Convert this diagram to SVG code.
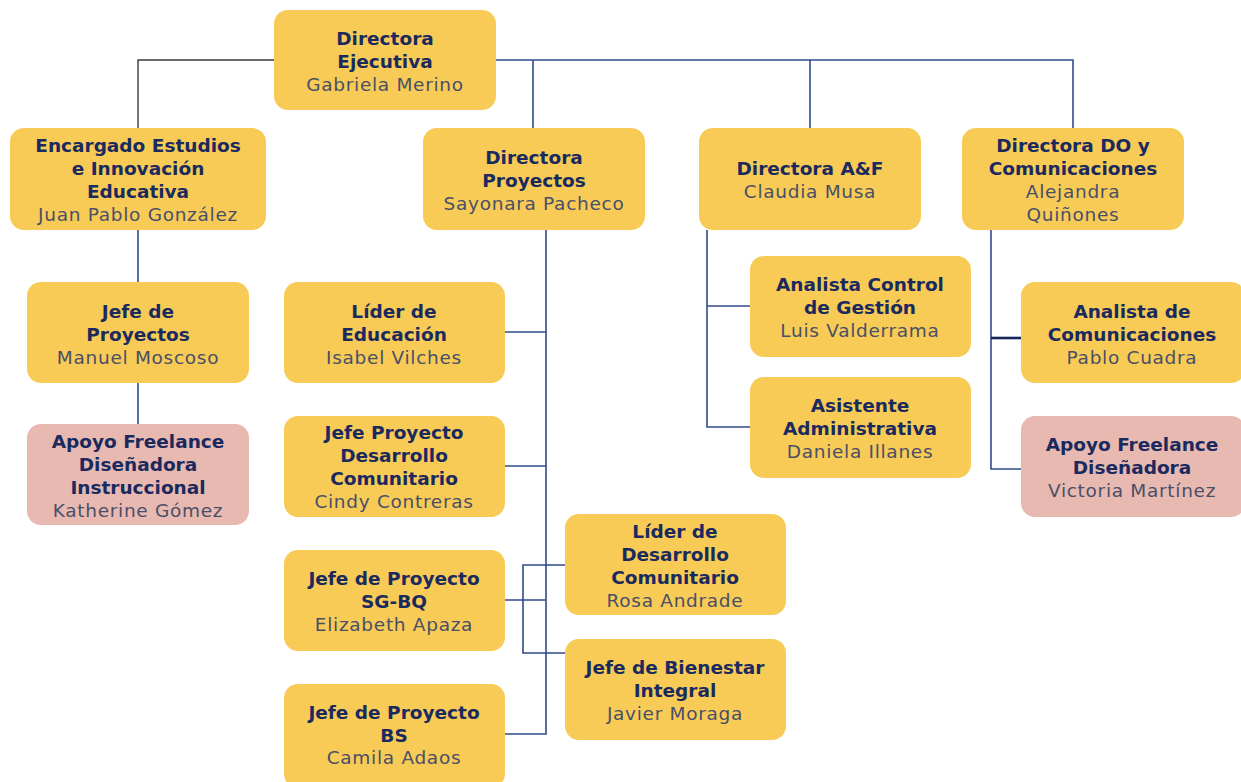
<svg xmlns="http://www.w3.org/2000/svg" width="1241" height="782" viewBox="0 0 1241 782">
<style>
.box{fill:#F7CB56;}
.pink{fill:#E8B9B1;}
.t{font-family:"DejaVu Sans","Open Sans",sans-serif;font-size:18.5px;font-weight:700;fill:#1B2A5E;text-anchor:middle;}
.n{font-family:"DejaVu Sans","Open Sans",sans-serif;font-size:18.5px;font-weight:400;letter-spacing:0.7px;fill:#4A4F68;text-anchor:middle;}
.c{fill:none;stroke:#2F4B8A;stroke-width:1.6;}
.g{fill:none;stroke:#3A3A3A;stroke-width:1.4;}
</style>
<rect width="1241" height="782" fill="#FFFFFF"/>
<g id="connectors">
<polyline class="g" points="274,60 138,60 138,128"/>
<polyline class="c" points="496,60 1073,60 1073,128"/>
<line class="c" x1="533" y1="60" x2="533" y2="128"/>
<line class="c" x1="810" y1="60" x2="810" y2="128"/>
<line class="c" x1="138" y1="230" x2="138" y2="282"/>
<line class="c" x1="138" y1="383" x2="138" y2="424"/>
<polyline class="c" points="546,230 546,734 505,734"/>
<line class="c" x1="505" y1="332" x2="546" y2="332"/>
<line class="c" x1="505" y1="466" x2="546" y2="466"/>
<line class="c" x1="505" y1="600" x2="546" y2="600"/>
<polyline class="c" points="565,565 523,565 523,653 566,653 566,691"/>
<polyline class="c" points="707,230 707,427 750,427"/>
<line class="c" x1="707" y1="306" x2="750" y2="306"/>
<polyline class="c" points="991,230 991,469 1021,469"/>
<line x1="991" y1="338" x2="1021" y2="338" stroke="#14255A" stroke-width="2.6"/>
</g>
<g id="n-dir-ejecutiva"><rect class="box" x="274" y="10" width="222" height="100" rx="14"/>
<text class="t" x="385" y="45">Directora</text><text class="t" x="385" y="68">Ejecutiva</text><text class="n" x="385" y="91">Gabriela Merino</text></g>
<g id="n-encargado"><rect class="box" x="10" y="128" width="256" height="102" rx="14"/>
<text class="t" x="138" y="152">Encargado Estudios</text><text class="t" x="138" y="175">e Innovación</text><text class="t" x="138" y="198">Educativa</text><text class="n" x="138" y="221">Juan Pablo González</text></g>
<g id="n-dir-proyectos"><rect class="box" x="423" y="128" width="222" height="102" rx="14"/>
<text class="t" x="534" y="164">Directora</text><text class="t" x="534" y="187">Proyectos</text><text class="n" x="534" y="210">Sayonara Pacheco</text></g>
<g id="n-dir-af"><rect class="box" x="699" y="128" width="222" height="102" rx="14"/>
<text class="t" x="810" y="175">Directora A&amp;F</text><text class="n" x="810" y="198">Claudia Musa</text></g>
<g id="n-dir-do"><rect class="box" x="962" y="128" width="222" height="102" rx="14"/>
<text class="t" x="1073" y="152">Directora DO y</text><text class="t" x="1073" y="175">Comunicaciones</text><text class="n" x="1073" y="198">Alejandra</text><text class="n" x="1073" y="221">Quiñones</text></g>
<g id="n-jefe-proyectos"><rect class="box" x="27" y="282" width="222" height="101" rx="14"/>
<text class="t" x="138" y="318">Jefe de</text><text class="t" x="138" y="341">Proyectos</text><text class="n" x="138" y="364">Manuel Moscoso</text></g>
<g id="n-apoyo-katherine"><rect class="pink" x="27" y="424" width="222" height="101" rx="14"/>
<text class="t" x="138" y="448">Apoyo Freelance</text><text class="t" x="138" y="471">Diseñadora</text><text class="t" x="138" y="494">Instruccional</text><text class="n" x="138" y="517">Katherine Gómez</text></g>
<g id="n-lider-educacion"><rect class="box" x="284" y="282" width="221" height="101" rx="14"/>
<text class="t" x="394" y="318">Líder de</text><text class="t" x="394" y="341">Educación</text><text class="n" x="394" y="364">Isabel Vilches</text></g>
<g id="n-jefe-dc"><rect class="box" x="284" y="416" width="221" height="101" rx="14"/>
<text class="t" x="394" y="439">Jefe Proyecto</text><text class="t" x="394" y="462">Desarrollo</text><text class="t" x="394" y="485">Comunitario</text><text class="n" x="394" y="508">Cindy Contreras</text></g>
<g id="n-jefe-sgbq"><rect class="box" x="284" y="550" width="221" height="101" rx="14"/>
<text class="t" x="394" y="585">Jefe de Proyecto</text><text class="t" x="394" y="608">SG-BQ</text><text class="n" x="394" y="631">Elizabeth Apaza</text></g>
<g id="n-jefe-bs"><rect class="box" x="284" y="684" width="221" height="104" rx="14"/>
<text class="t" x="394" y="719">Jefe de Proyecto</text><text class="t" x="394" y="742">BS</text><text class="n" x="394" y="764">Camila Adaos</text></g>
<g id="n-lider-dc"><rect class="box" x="565" y="514" width="221" height="101" rx="14"/>
<text class="t" x="675" y="538">Líder de</text><text class="t" x="675" y="561">Desarrollo</text><text class="t" x="675" y="584">Comunitario</text><text class="n" x="675" y="607">Rosa Andrade</text></g>
<g id="n-jefe-bienestar"><rect class="box" x="565" y="639" width="221" height="101" rx="14"/>
<text class="t" x="675" y="674">Jefe de Bienestar</text><text class="t" x="675" y="697">Integral</text><text class="n" x="675" y="720">Javier Moraga</text></g>
<g id="n-analista-control"><rect class="box" x="750" y="256" width="221" height="101" rx="14"/>
<text class="t" x="860" y="291">Analista Control</text><text class="t" x="860" y="314">de Gestión</text><text class="n" x="860" y="337">Luis Valderrama</text></g>
<g id="n-asistente"><rect class="box" x="750" y="377" width="221" height="101" rx="14"/>
<text class="t" x="860" y="412">Asistente</text><text class="t" x="860" y="435">Administrativa</text><text class="n" x="860" y="458">Daniela Illanes</text></g>
<g id="n-analista-com"><rect class="box" x="1021" y="282" width="224" height="101" rx="14"/>
<text class="t" x="1132" y="318">Analista de</text><text class="t" x="1132" y="341">Comunicaciones</text><text class="n" x="1132" y="364">Pablo Cuadra</text></g>
<g id="n-apoyo-victoria"><rect class="pink" x="1021" y="416" width="224" height="101" rx="14"/>
<text class="t" x="1132" y="451">Apoyo Freelance</text><text class="t" x="1132" y="474">Diseñadora</text><text class="n" x="1132" y="497">Victoria Martínez</text></g>
</svg>
